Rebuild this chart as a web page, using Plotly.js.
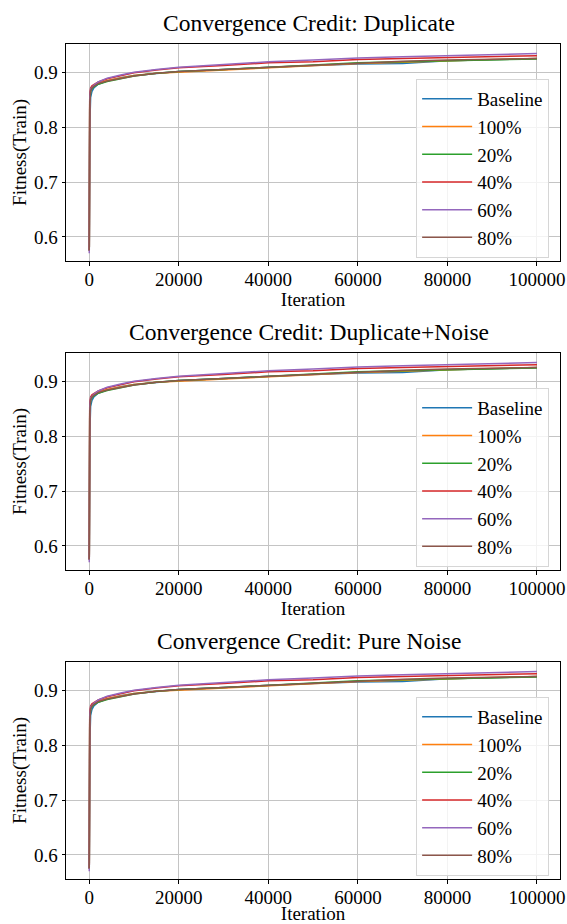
<!DOCTYPE html>
<html>
<head>
<meta charset="utf-8">
<script src="https://cdn.plot.ly/plotly-3.0.1.min.js"></script>
<style>html,body{margin:0;padding:0;background:#fff;}#chart{width:567px;height:924px;}</style>
</head>
<body>
<div id="chart"></div>
<script>
// ---- data ----
const panelTitles = ["Convergence Credit: Duplicate", "Convergence Credit: Duplicate+Noise", "Convergence Credit: Pure Noise"];
const seriesNames = ["Baseline", "100%", "20%", "40%", "60%", "80%"];
const iterations = [0, 100, 300, 600, 1000, 2000, 4000, 7000, 10000, 15000, 20000, 30000, 40000, 50000, 60000, 70000, 80000, 90000, 100000];
const baseline = [0.575, 0.800, 0.855, 0.866, 0.872, 0.879, 0.885, 0.891, 0.895, 0.899, 0.902, 0.906, 0.910, 0.913, 0.916, 0.917, 0.922, 0.924, 0.926];
const p100     = [0.575, 0.850, 0.868, 0.873, 0.876, 0.881, 0.886, 0.891, 0.895, 0.899, 0.901, 0.905, 0.909, 0.912, 0.917, 0.919, 0.922, 0.924, 0.926];
const p20      = [0.575, 0.840, 0.866, 0.871, 0.874, 0.879, 0.884, 0.889, 0.894, 0.899, 0.902, 0.906, 0.910, 0.914, 0.918, 0.920, 0.922, 0.924, 0.925];
const p40      = [0.575, 0.860, 0.872, 0.876, 0.878, 0.883, 0.889, 0.895, 0.900, 0.905, 0.909, 0.913, 0.918, 0.920, 0.924, 0.926, 0.928, 0.930, 0.931];
const p60      = [0.570, 0.855, 0.870, 0.874, 0.877, 0.883, 0.890, 0.896, 0.901, 0.906, 0.910, 0.915, 0.920, 0.923, 0.927, 0.929, 0.931, 0.933, 0.935];
const p80      = [0.575, 0.845, 0.867, 0.872, 0.875, 0.880, 0.885, 0.890, 0.894, 0.899, 0.902, 0.906, 0.910, 0.914, 0.918, 0.921, 0.923, 0.925, 0.926];
const seriesValues = [baseline, p100, p20, p40, p60, p80];
const xTickVals = [0, 20000, 40000, 60000, 80000, 100000];
const yTickVals = [0.6, 0.7, 0.8, 0.9];

// ---- styling ----
const colors = ["#1f77b4", "#ff7f0e", "#2ca02c", "#d62728", "#9467bd", "#8c564b"];
const FONT = "Liberation Serif, serif";
const H = 924;
const axTops = [43.7, 352.7, 661.7];
const axH = 217.5;
const legendTopPx = [79, 388, 697];

const traces = [];
const layout = {
  width: 567, height: 924,
  margin: {l: 66, r: 7, t: 0, b: 0},
  paper_bgcolor: "#ffffff", plot_bgcolor: "rgba(0,0,0,0)",
  font: {family: FONT, size: 19, color: "#000"},
  showlegend: true,
  annotations: []
};

for (let p = 0; p < 3; p++) {
  const sfx = p === 0 ? "" : String(p + 1);
  const top = axTops[p], bot = axTops[p] + axH;
  layout["xaxis" + sfx] = {
    domain: [0, 1], anchor: "y" + sfx,
    range: [-5200, 105150], tickvals: xTickVals, ticktext: xTickVals.map(String),
    showgrid: true, gridcolor: "#c4c4c4", gridwidth: 1,
    zeroline: false, showline: true, mirror: true, linecolor: "#000", linewidth: 1,
    ticks: "outside", ticklen: 3.5, tickcolor: "#000", tickwidth: 1,
    tickfont: {family: FONT, size: 19}, ticklabelstandoff: -3,
    title: {text: "Iteration", font: {family: FONT, size: 19}, standoff: 0},
    automargin: false
  };
  layout["yaxis" + sfx] = {
    domain: [1 - bot / H, 1 - top / H], anchor: "x" + sfx,
    range: [0.5556, 0.953], tickvals: yTickVals, ticktext: yTickVals.map(v => v.toFixed(1)),
    showgrid: true, gridcolor: "#c4c4c4", gridwidth: 1,
    zeroline: false, showline: true, mirror: true, linecolor: "#000", linewidth: 1,
    ticks: "outside", ticklen: 3.5, tickcolor: "#000", tickwidth: 1,
    tickfont: {family: FONT, size: 19},
    title: {text: "Fitness(Train)", font: {family: FONT, size: 19}, standoff: 2},
    automargin: false
  };
  const legName = p === 0 ? "legend" : "legend" + (p + 1);
  layout[legName] = {
    x: 0.978, xanchor: "right", y: 1 - legendTopPx[p] / H, yanchor: "top",
    bgcolor: "rgba(255,255,255,0.8)", bordercolor: "#d6d6d6", borderwidth: 1,
    itemwidth: 50,
    font: {family: FONT, size: 19, color: "#000"}
  };
  layout.annotations.push({
    text: panelTitles[p], xref: "paper", yref: "paper", x: 0.492, y: 1 - top / H,
    xanchor: "center", yanchor: "bottom", yshift: 6, showarrow: false,
    font: {family: FONT, size: 23.5, color: "#000"}
  });
  for (let s = 0; s < seriesNames.length; s++) {
    traces.push({
      type: "scatter", mode: "lines", name: seriesNames[s],
      x: iterations, y: seriesValues[s],
      xaxis: "x" + sfx, yaxis: "y" + sfx, legend: legName,
      line: {color: colors[s], width: 1.5}
    });
  }
}

Plotly.newPlot("chart", traces, layout, {staticPlot: true, displayModeBar: false});
</script>
</body>
</html>
